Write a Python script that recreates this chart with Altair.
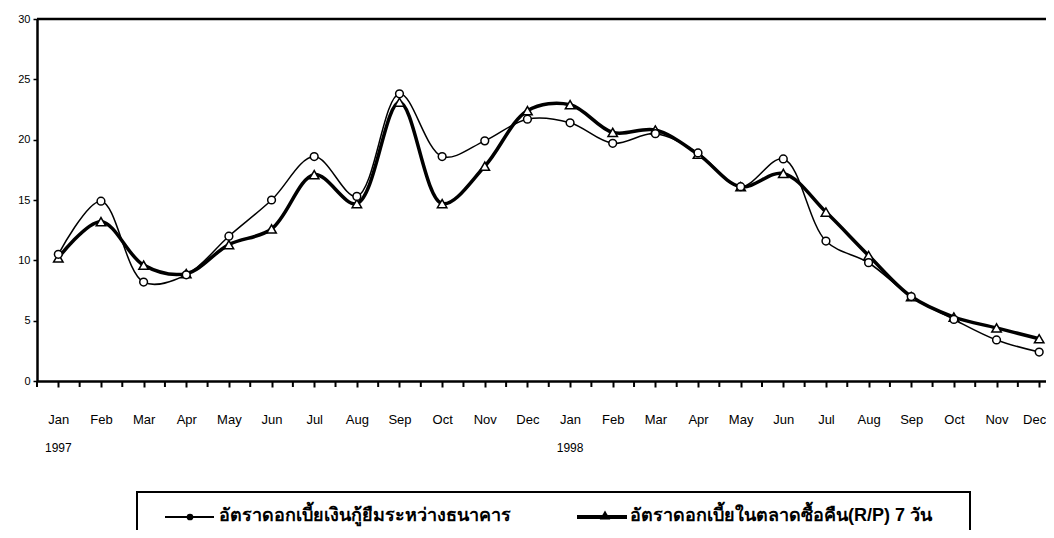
import altair as alt
import pandas as pd

months = ["Jan", "Feb", "Mar", "Apr", "May", "Jun", "Jul", "Aug", "Sep", "Oct", "Nov", "Dec"] * 2
years = ["1997", "1998"]
year_pos = [0, 12]

interbank = [10.5, 14.9, 8.2, 8.8, 12.0, 15.0, 18.6, 15.3, 23.8, 18.6, 19.9, 21.7,
             21.4, 19.7, 20.5, 18.9, 16.1, 18.4, 11.6, 9.8, 7.0, 5.1, 3.4, 2.4]
repo = [10.2, 13.2, 9.6, 8.9, 11.3, 12.6, 17.1, 14.7, 23.1, 14.7, 17.8, 22.4,
        22.9, 20.6, 20.8, 18.8, 16.1, 17.2, 14.0, 10.4, 7.0, 5.3, 4.4, 3.5]

name1 = "อัตราดอกเบี้ยเงินกู้ยืมระหว่างธนาคาร"
name2 = "อัตราดอกเบี้ยในตลาดซื้อคืน(R/P) 7 วัน"

y_ticks = [0, 5, 10, 15, 20, 25, 30]

FONT = "Liberation Sans"
W, H = 1009, 362

df = pd.DataFrame({"i": list(range(len(months))), "month": months,
                   "interbank": interbank, "repo": repo})
years_df = pd.DataFrame({"i": year_pos, "year": years})
half_df = pd.DataFrame({"h": [k - 0.5 for k in range(len(months))]})
one = pd.DataFrame({"k": [0]})

last = len(months) - 1
label_expr = " : ".join(f"datum.value == {k} ? '{m}'" for k, m in enumerate(months)) + " : ''"

xs = alt.Scale(domain=[-0.5, 23.16], nice=False, zero=False)
ys = alt.Scale(domain=[0, 30], nice=False)

xaxis = alt.Axis(values=list(range(len(months))), labelExpr=label_expr,
                 title=None, grid=False, tickSize=6, tickWidth=2, tickColor="black",
                 domainWidth=2.5, domainColor="black", labelPadding=26, labelFont=FONT,
                 labelFontSize=13, labelColor="black", labelFlush=False, labelOverlap=False,
                 labelOffset={"condition": {"test": f"datum.value == {last}", "value": -5},
                              "value": 0})
yaxis = alt.Axis(values=y_ticks, title=None, grid=False, tickSize=4, tickWidth=1.5,
                 tickColor="black", domainWidth=2.5, domainColor="black", labelPadding=3,
                 labelFont=FONT, labelFontSize=11, labelColor="black")

base = alt.Chart(df)

repo_line = base.mark_line(color="black", strokeWidth=3.5, interpolate="catmull-rom").encode(
    x=alt.X("i:Q", scale=xs, axis=xaxis),
    y=alt.Y("repo:Q", scale=ys, axis=yaxis),
)
ib_line = base.mark_line(color="black", strokeWidth=1.5, interpolate="catmull-rom").encode(
    x=alt.X("i:Q", scale=xs, axis=xaxis),
    y=alt.Y("interbank:Q", scale=ys, axis=yaxis),
)
repo_pts = base.mark_point(shape="triangle-up", size=90, filled=True, fill="white",
                           stroke="black", strokeWidth=1.5, opacity=1).encode(
    x=alt.X("i:Q", scale=xs, axis=xaxis), y=alt.Y("repo:Q", scale=ys, axis=yaxis))
ib_pts = base.mark_point(shape="circle", size=60, filled=True, fill="white",
                         stroke="black", strokeWidth=1.5, opacity=1).encode(
    x=alt.X("i:Q", scale=xs, axis=xaxis), y=alt.Y("interbank:Q", scale=ys, axis=yaxis))

half_ticks = alt.Chart(half_df).mark_rule(color="black", strokeWidth=2).encode(
    x=alt.X("h:Q", scale=xs, axis=xaxis), y=alt.value(H), y2=alt.value(H + 6))

top_rule = alt.Chart(one).mark_rule(color="black", strokeWidth=2.5).encode(
    x=alt.value(0), x2=alt.value(W), y=alt.value(0))

year_text = alt.Chart(years_df).mark_text(font=FONT, fontSize=12, color="black",
                                          baseline="middle").encode(
    x=alt.X("i:Q", scale=xs, axis=xaxis), y=alt.value(429), text="year:N")

leg_box = alt.Chart(one).mark_rect(fill="white", stroke="black", strokeWidth=2).encode(
    x=alt.value(100), x2=alt.value(933), y=alt.value(473), y2=alt.value(540))
leg_l1 = alt.Chart(one).mark_rule(color="black", strokeWidth=2).encode(
    x=alt.value(128), x2=alt.value(177), y=alt.value(498))
leg_p1 = alt.Chart(one).mark_point(shape="circle", size=45, filled=True, color="black",
                                   opacity=1).encode(x=alt.value(153), y=alt.value(498))
leg_t1 = alt.Chart(one).mark_text(font=FONT, fontSize=18, fontWeight="bold", color="black",
                                  align="left", baseline="middle", text=name1).encode(
    x=alt.value(182), y=alt.value(497))
leg_l2 = alt.Chart(one).mark_rule(color="black", strokeWidth=4).encode(
    x=alt.value(540), x2=alt.value(590), y=alt.value(498))
leg_p2 = alt.Chart(one).mark_point(shape="triangle-up", size=110, filled=True, color="black",
                                   opacity=1).encode(x=alt.value(568), y=alt.value(496))
leg_t2 = alt.Chart(one).mark_text(font=FONT, fontSize=18, fontWeight="bold", color="black",
                                  align="left", baseline="middle", text=name2).encode(
    x=alt.value(593), y=alt.value(497))

chart = alt.layer(
    repo_line, ib_line, repo_pts, ib_pts, half_ticks, top_rule, year_text,
    leg_box, leg_l1, leg_p1, leg_t1, leg_l2, leg_p2, leg_t2
).properties(
    width=W, height=H,
    autosize=alt.AutoSizeParams(type="none"),
    padding={"left": 29, "top": 11, "right": 0, "bottom": 149},
    background="white",
).configure_view(strokeWidth=0)

chart.save("out.html", embed_options={"renderer": "svg", "actions": False})
